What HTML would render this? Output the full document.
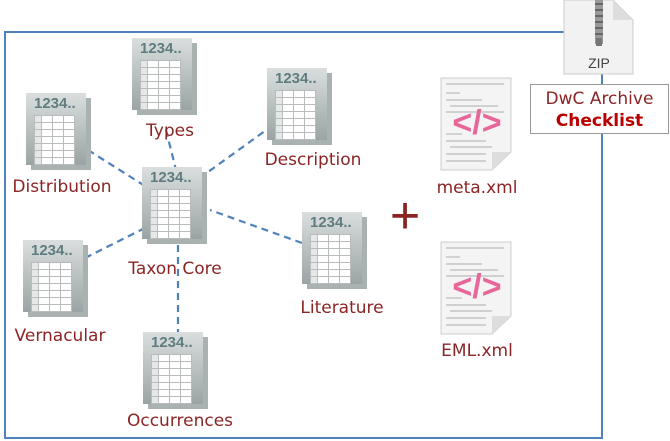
<!DOCTYPE html>
<html><head><style>
body{margin:0;width:670px;height:441px;background:#fff;position:relative;overflow:hidden;font-family:"DejaVu Sans","Liberation Sans",sans-serif;}
.frame{position:absolute;left:4px;top:31px;width:595px;height:404px;border:2px solid #4f81bd;}
.ic{position:absolute;width:64px;height:76px;}
.ic .bk{position:absolute;left:5px;top:5px;width:60px;height:72px;background:#a9b1b1;}
.ic .pg{position:absolute;left:0;top:0;width:60px;height:72px;background:linear-gradient(#dadede,#9ba4a4);}
.ic .hd{position:absolute;left:8px;top:2px;font:bold 15px "Liberation Sans",sans-serif;color:#5f7d80;}
.ic table{position:absolute;left:8px;top:22px;border-collapse:collapse;}
.ic td{border:1px solid #b8bcbc;width:10px;height:6px;padding:0;background:#fff;font-size:0;}
.ic td.g{background:#e6e8e8;width:6px;}
.lb{position:absolute;color:#8b2525;font-size:17px;transform:translateX(-50%);white-space:nowrap;}
.xml{position:absolute;width:78px;height:96px;}
</style></head><body>
<div class="frame"></div>
<svg style="position:absolute;left:0;top:0" width="670" height="441">
<g stroke="#4f81bd" stroke-width="2.2" stroke-dasharray="7,5" fill="none">
<line x1="166" y1="130" x2="176" y2="170"/>
<line x1="283" y1="118" x2="208" y2="172"/>
<line x1="88" y1="150" x2="145" y2="186"/>
<line x1="85" y1="258" x2="145" y2="228"/>
<line x1="302" y1="243" x2="210" y2="210"/>
<line x1="178" y1="245" x2="178" y2="333"/>
</g>
<text x="405" y="233" font-family="Liberation Sans" font-size="52" fill="#8b2525" text-anchor="middle">+</text>
</svg>
<div class="ic" style="left:132px;top:38px"><div class="bk"></div><div class="pg"></div><div class="hd">1234..</div><table><tr><td class="g"></td><td></td><td></td><td></td></tr><tr><td class="g"></td><td></td><td></td><td></td></tr><tr><td class="g"></td><td></td><td></td><td></td></tr><tr><td class="g"></td><td></td><td></td><td></td></tr><tr><td class="g"></td><td></td><td></td><td></td></tr><tr><td class="g"></td><td></td><td></td><td></td></tr><tr><td class="g"></td><td></td><td></td><td></td></tr></table></div>
<div class="ic" style="left:267px;top:68px"><div class="bk"></div><div class="pg"></div><div class="hd">1234..</div><table><tr><td class="g"></td><td></td><td></td><td></td></tr><tr><td class="g"></td><td></td><td></td><td></td></tr><tr><td class="g"></td><td></td><td></td><td></td></tr><tr><td class="g"></td><td></td><td></td><td></td></tr><tr><td class="g"></td><td></td><td></td><td></td></tr><tr><td class="g"></td><td></td><td></td><td></td></tr><tr><td class="g"></td><td></td><td></td><td></td></tr></table></div>
<div class="ic" style="left:26px;top:93px"><div class="bk"></div><div class="pg"></div><div class="hd">1234..</div><table><tr><td class="g"></td><td></td><td></td><td></td></tr><tr><td class="g"></td><td></td><td></td><td></td></tr><tr><td class="g"></td><td></td><td></td><td></td></tr><tr><td class="g"></td><td></td><td></td><td></td></tr><tr><td class="g"></td><td></td><td></td><td></td></tr><tr><td class="g"></td><td></td><td></td><td></td></tr><tr><td class="g"></td><td></td><td></td><td></td></tr></table></div>
<div class="ic" style="left:142px;top:167px"><div class="bk"></div><div class="pg"></div><div class="hd">1234..</div><table><tr><td class="g"></td><td></td><td></td><td></td></tr><tr><td class="g"></td><td></td><td></td><td></td></tr><tr><td class="g"></td><td></td><td></td><td></td></tr><tr><td class="g"></td><td></td><td></td><td></td></tr><tr><td class="g"></td><td></td><td></td><td></td></tr><tr><td class="g"></td><td></td><td></td><td></td></tr><tr><td class="g"></td><td></td><td></td><td></td></tr></table></div>
<div class="ic" style="left:23px;top:240px"><div class="bk"></div><div class="pg"></div><div class="hd">1234..</div><table><tr><td class="g"></td><td></td><td></td><td></td></tr><tr><td class="g"></td><td></td><td></td><td></td></tr><tr><td class="g"></td><td></td><td></td><td></td></tr><tr><td class="g"></td><td></td><td></td><td></td></tr><tr><td class="g"></td><td></td><td></td><td></td></tr><tr><td class="g"></td><td></td><td></td><td></td></tr><tr><td class="g"></td><td></td><td></td><td></td></tr></table></div>
<div class="ic" style="left:302px;top:212px"><div class="bk"></div><div class="pg"></div><div class="hd">1234..</div><table><tr><td class="g"></td><td></td><td></td><td></td></tr><tr><td class="g"></td><td></td><td></td><td></td></tr><tr><td class="g"></td><td></td><td></td><td></td></tr><tr><td class="g"></td><td></td><td></td><td></td></tr><tr><td class="g"></td><td></td><td></td><td></td></tr><tr><td class="g"></td><td></td><td></td><td></td></tr><tr><td class="g"></td><td></td><td></td><td></td></tr></table></div>
<div class="ic" style="left:143px;top:332px"><div class="bk"></div><div class="pg"></div><div class="hd">1234..</div><table><tr><td class="g"></td><td></td><td></td><td></td></tr><tr><td class="g"></td><td></td><td></td><td></td></tr><tr><td class="g"></td><td></td><td></td><td></td></tr><tr><td class="g"></td><td></td><td></td><td></td></tr><tr><td class="g"></td><td></td><td></td><td></td></tr><tr><td class="g"></td><td></td><td></td><td></td></tr><tr><td class="g"></td><td></td><td></td><td></td></tr></table></div>
<div class="lb" style="left:170px;top:121px">Types</div>
<div class="lb" style="left:313px;top:150px">Description</div>
<div class="lb" style="left:62px;top:177px">Distribution</div>
<div class="lb" style="left:175px;top:259px">Taxon Core</div>
<div class="lb" style="left:60px;top:326px">Vernacular</div>
<div class="lb" style="left:342px;top:298px">Literature</div>
<div class="lb" style="left:180px;top:411px">Occurrences</div>
<div class="lb" style="left:477px;top:178px">meta.xml</div>
<div class="lb" style="left:477px;top:341px">EML.xml</div>
<svg class="xml" style="left:438px;top:76px" viewBox="0 0 78 96">
<path d="M3 2H73V76L54 94H3Z" fill="#f4f4f4" stroke="#ccc"/><path d="M73 76L54 76L54 94Z" fill="#ddd"/>
<g stroke="#bbb" stroke-width="1.2"><line x1="8" y1="8" x2="66" y2="8"/><line x1="8" y1="17" x2="22" y2="17"/><line x1="8" y1="24" x2="44" y2="24"/><line x1="12" y1="30" x2="60" y2="30"/><line x1="8" y1="36" x2="66" y2="36"/><line x1="8" y1="58" x2="24" y2="58"/><line x1="8" y1="65" x2="48" y2="65"/><line x1="12" y1="71" x2="54" y2="71"/><line x1="8" y1="78" x2="48" y2="78"/><line x1="8" y1="85" x2="48" y2="85"/></g>
<text x="39" y="58" text-anchor="middle" font-family="Liberation Sans" font-weight="bold" font-size="34" fill="#e8679a">&lt;/&gt;</text></svg>
<svg class="xml" style="left:438px;top:240px" viewBox="0 0 78 96">
<path d="M3 2H73V76L54 94H3Z" fill="#f4f4f4" stroke="#ccc"/><path d="M73 76L54 76L54 94Z" fill="#ddd"/>
<g stroke="#bbb" stroke-width="1.2"><line x1="8" y1="8" x2="66" y2="8"/><line x1="8" y1="17" x2="22" y2="17"/><line x1="8" y1="24" x2="44" y2="24"/><line x1="12" y1="30" x2="60" y2="30"/><line x1="8" y1="36" x2="66" y2="36"/><line x1="8" y1="58" x2="24" y2="58"/><line x1="8" y1="65" x2="48" y2="65"/><line x1="12" y1="71" x2="54" y2="71"/><line x1="8" y1="78" x2="48" y2="78"/><line x1="8" y1="85" x2="48" y2="85"/></g>
<text x="39" y="58" text-anchor="middle" font-family="Liberation Sans" font-weight="bold" font-size="34" fill="#e8679a">&lt;/&gt;</text></svg>
<svg style="position:absolute;left:563px;top:0" width="72" height="76" viewBox="0 0 72 76">
<path d="M1 0H50L70 20V74H1Z" fill="#f2f2f2" stroke="#ccc"/><path d="M50 0V20H70Z" fill="#ddd"/>
<rect x="32" y="0" width="8" height="44" fill="#999"/><g stroke="#555" stroke-width="1.5"><line x1="32" y1="4" x2="40" y2="4"/><line x1="32" y1="10" x2="40" y2="10"/><line x1="32" y1="16" x2="40" y2="16"/><line x1="32" y1="22" x2="40" y2="22"/><line x1="32" y1="28" x2="40" y2="28"/><line x1="32" y1="34" x2="40" y2="34"/></g>
<rect x="33" y="38" width="6" height="8" fill="#777"/>
<text x="36" y="68" text-anchor="middle" font-family="Liberation Sans" font-size="14" fill="#444">ZIP</text></svg>
<div style="position:absolute;left:530px;top:84px;width:139px;height:50px;background:#fff;border:1px solid #999;text-align:center;color:#8b2525;font-size:17px;line-height:22px;padding-top:3px;box-sizing:border-box;">DwC Archive<br><b style="color:#b00">Checklist</b></div>
</body></html>
